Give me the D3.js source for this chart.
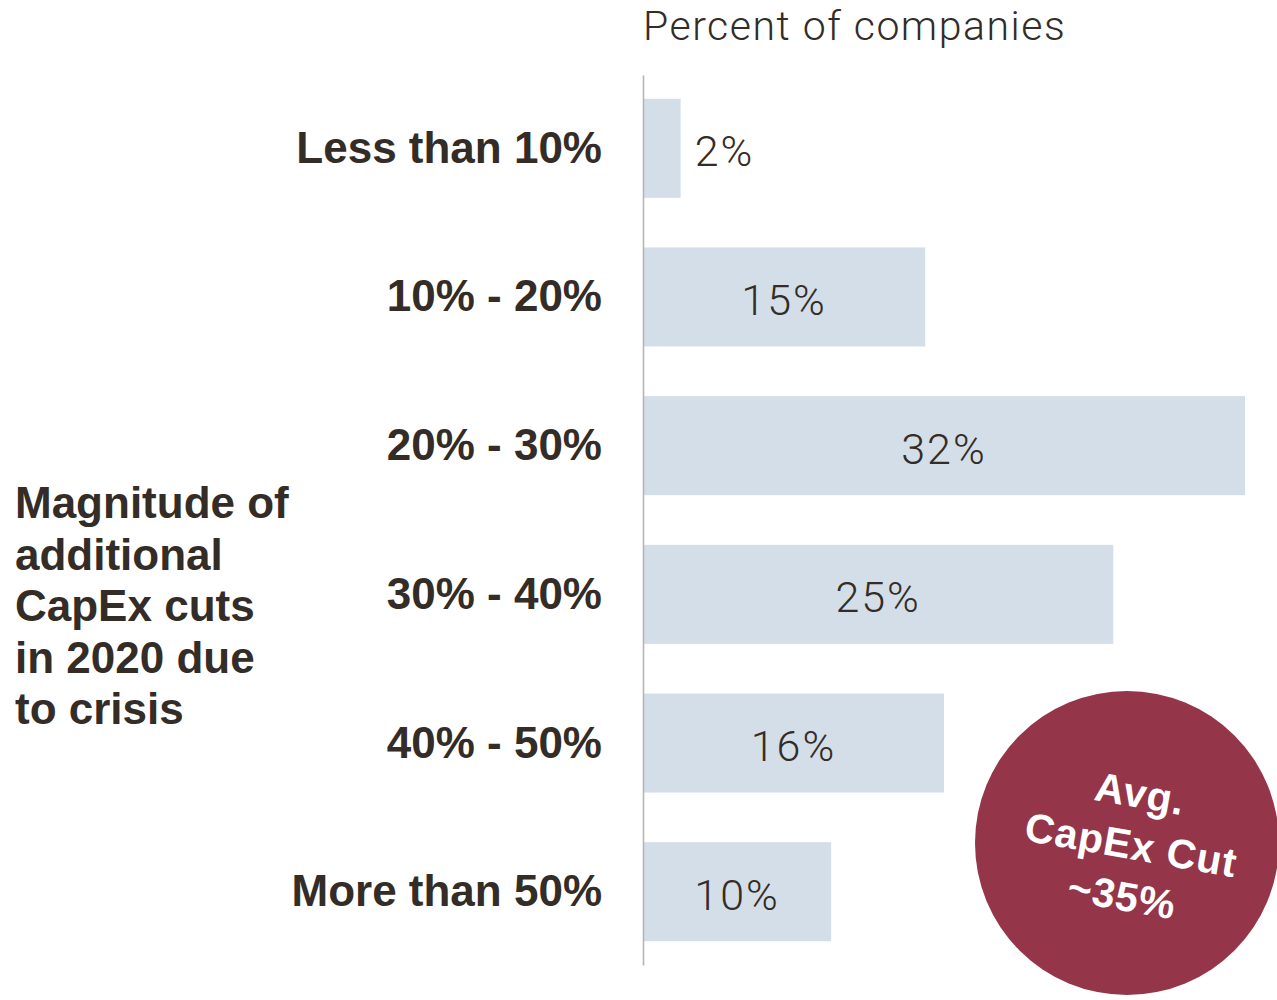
<!DOCTYPE html>
<html>
<head>
<meta charset="utf-8">
<script src="https://cdn.jsdelivr.net/npm/d3@7"></script>
<style>
  html, body { margin: 0; padding: 0; background: #ffffff; }
  svg { display: block; }
</style>
</head>
<body>
<svg id="chart" width="1277" height="1000"></svg>
<script>
// Survey data: share of companies by size of additional CapEx cut
const categories = ["Less than 10%", "10% - 20%", "20% - 30%", "30% - 40%", "40% - 50%", "More than 50%"];
const values = [2, 15, 32, 25, 16, 10];
const valueLabels = ["2%", "15%", "32%", "25%", "16%", "10%"];
const axisTitle = "Percent of companies";
const sideTitle = ["Magnitude of", "additional", "CapEx cuts", "in 2020 due", "to crisis"];
const badgeLines = ["Avg.", "CapEx Cut", "~35%"];

const svg = d3.select("#chart");
const textColor = "#342c26";
const barColor = "#d3dee8";
const badgeColor = "#943549";
const boldFont = "'Liberation Sans', Arial, sans-serif";
const lightFont = "Roboto, 'Liberation Sans', sans-serif";

const x = d3.scaleLinear().domain([0, 32]).range([643, 1245]);
const y = d3.scaleBand().domain(categories).range([75, 965])
  .paddingInner(0.334).paddingOuter(0.16);

// Bars
svg.append("g").selectAll("rect")
  .data(categories)
  .join("rect")
  .attr("x", x(0))
  .attr("y", d => y(d))
  .attr("width", (d, i) => x(values[i]) - x(0))
  .attr("height", y.bandwidth())
  .attr("fill", barColor);

// Baseline axis (vertical rule, no ticks)
const axis = d3.axisLeft(y).tickSize(0).tickFormat("");
const axisG = svg.append("g").attr("transform", `translate(${x(0)},0)`).call(axis);
axisG.select(".domain").attr("stroke", "#b5b5b5").attr("stroke-width", 1.6);

// Category labels
svg.append("g").selectAll("text")
  .data(categories)
  .join("text")
  .attr("x", 602)
  .attr("y", d => y(d) + y.bandwidth() / 2)
  .attr("dy", "0.33em")
  .attr("text-anchor", "end")
  .attr("font-family", boldFont)
  .attr("font-weight", "bold")
  .attr("font-size", 44)
  .attr("fill", textColor)
  .text(d => d);

// Value labels: centred in the bar, or just outside when the bar is too narrow
svg.append("g").selectAll("text")
  .data(categories)
  .join("text")
  .each(function (d, i) {
    const w = x(values[i]) - x(0);
    const inside = w > 100;
    d3.select(this)
      .attr("x", inside ? x(0) + w / 2 : x(values[i]) + 14)
      .attr("text-anchor", inside ? "middle" : "start");
  })
  .attr("y", d => y(d) + y.bandwidth() / 2)
  .attr("dy", "0.42em")
  .attr("font-family", lightFont)
  .attr("font-weight", 300)
  .attr("font-size", 43)
  .attr("letter-spacing", 2)
  .attr("fill", textColor)
  .text((d, i) => valueLabels[i]);

// Axis title
svg.append("text")
  .attr("x", x(0))
  .attr("y", 40)
  .attr("font-family", lightFont)
  .attr("font-weight", 300)
  .attr("font-size", 41)
  .attr("letter-spacing", 1.5)
  .attr("fill", textColor)
  .text(axisTitle);

// Side title
svg.append("text")
  .attr("font-family", boldFont)
  .attr("font-weight", "bold")
  .attr("font-size", 44)
  .attr("fill", textColor)
  .selectAll("tspan")
  .data(sideTitle)
  .join("tspan")
  .attr("x", 15)
  .attr("y", (d, i) => 518 + i * 51.5)
  .text(d => d);

// Average badge
const badge = svg.append("g");
badge.append("circle")
  .attr("cx", 1127)
  .attr("cy", 843)
  .attr("r", 152)
  .attr("fill", badgeColor);

badge.append("g")
  .attr("transform", "translate(1131,845) rotate(10)")
  .append("text")
  .attr("text-anchor", "middle")
  .attr("font-family", boldFont)
  .attr("font-weight", "bold")
  .attr("font-size", 41)
  .attr("letter-spacing", 0.8)
  .attr("fill", "#ffffff")
  .selectAll("tspan")
  .data(badgeLines)
  .join("tspan")
  .attr("x", 0)
  .attr("y", (d, i) => -38 + i * 52)
  .text(d => d);
</script>
</body>
</html>
